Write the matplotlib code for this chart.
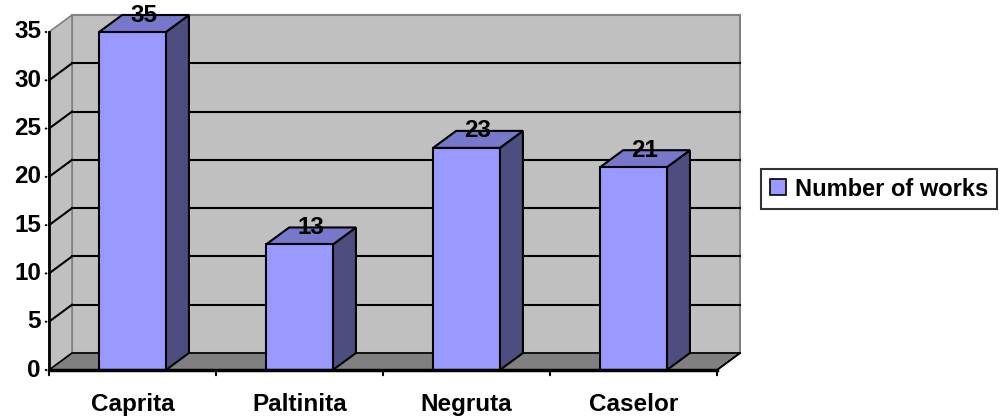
import matplotlib
matplotlib.use("Agg")
import matplotlib.pyplot as plt
from matplotlib.patches import Polygon, Rectangle, Patch

categories = ["Caprita", "Paltinita", "Negruta", "Caselor"]
works = [35, 13, 23, 21]
y_ticks = [0, 5, 10, 15, 20, 25, 30, 35]
series_name = "Number of works"

FRONT = "#9999ff"
SIDE = "#4d4d80"
TOP = "#7777cc"
WALL = "#c0c0c0"
FLOOR = "#808080"

# depth offset of the 3d box, in data units
DX = 0.138
DY = 1.76
BW = 0.40
FS = 17.5

plt.rcParams['font.family'] = ['Liberation Sans', 'DejaVu Sans']
plt.rcParams['font.weight'] = 'bold'

fig = plt.figure(figsize=(9.99, 4.19), dpi=100)
ax = fig.add_axes([49 / 999, (419 - 370) / 419, 668 / 999, 338 / 419])
ax.set_xlim(-0.5, 3.5)
ax.set_ylim(0, 35)
ax.axis("off")

x0, x1 = -0.5, len(categories) - 0.5
ytop = y_ticks[-1]

# walls and floor
ax.add_patch(Polygon([(x0 + DX, DY), (x1 + DX, DY), (x1 + DX, ytop + DY), (x0 + DX, ytop + DY)],
                     closed=True, facecolor=WALL, edgecolor=FLOOR, lw=1.5, clip_on=False, zorder=1))
ax.add_patch(Polygon([(x0, 0), (x0 + DX, DY), (x0 + DX, ytop + DY), (x0, ytop)],
                     closed=True, facecolor=WALL, edgecolor=FLOOR, lw=1.2, clip_on=False, zorder=1))
ax.add_patch(Polygon([(x0, 0), (x1, 0), (x1 + DX, DY), (x0 + DX, DY)],
                     closed=True, facecolor=FLOOR, edgecolor="black", lw=1.2, clip_on=False, zorder=1))

for v in y_ticks[1:-1]:
    ax.plot([x0 + DX, x1 + DX], [v + DY, v + DY], color="black", lw=1.5, clip_on=False, zorder=2)
    ax.plot([x0, x0 + DX], [v, v + DY], color="black", lw=1.5, clip_on=False, zorder=2)

# bars
for i, v in enumerate(works):
    l, r = i - BW / 2, i + BW / 2
    ax.add_patch(Polygon([(r, 0), (r + DX, DY), (r + DX, v + DY), (r, v)], closed=True,
                         facecolor=SIDE, edgecolor="black", lw=1.5, clip_on=False, zorder=3))
    ax.add_patch(Polygon([(l, v), (r, v), (r + DX, v + DY), (l + DX, v + DY)], closed=True,
                         facecolor=TOP, edgecolor="black", lw=1.5, clip_on=False, zorder=3))
    ax.add_patch(Rectangle((l, 0), BW, v, facecolor=FRONT, edgecolor="black", lw=1.5,
                           clip_on=False, zorder=4))
    ax.text(i + DX / 2, v + DY, str(v), ha="center", va="center", fontsize=FS,
            fontweight="bold", zorder=6)

# axes lines and ticks
ax.plot([x0, x0], [0, ytop], color="black", lw=2, clip_on=False, zorder=5)
ax.plot([x0, x1], [0, 0], color="black", lw=2.5, clip_on=False, zorder=5)
ax.plot([x1, x1 + DX], [0, DY], color="black", lw=1.2, clip_on=False, zorder=5)
for v in y_ticks:
    ax.annotate("", xy=(x0, v), xytext=(-6, 0), textcoords="offset pixels",
                arrowprops=dict(arrowstyle="-", lw=1.5, color="black"))
    ax.annotate(str(v), xy=(x0, v), xytext=(-8, 0), textcoords="offset pixels",
                ha="right", va="center", fontsize=FS, fontweight="bold")
for k in range(len(categories) + 1):
    ax.annotate("", xy=(x0 + k, 0), xytext=(0, -8), textcoords="offset pixels",
                arrowprops=dict(arrowstyle="-", lw=1.5, color="black"))
for i, c in enumerate(categories):
    ax.annotate(c, xy=(i, 0), xytext=(0, -34), textcoords="offset pixels",
                ha="center", va="center", fontsize=FS, fontweight="bold")

leg = fig.legend(handles=[Patch(facecolor=FRONT, edgecolor="black", lw=1.2, label=series_name)],
                 loc="center right", bbox_to_anchor=(997 / 999, 1 - 189 / 419),
                 frameon=True, fancybox=False, fontsize=17, handlelength=0.7,
                 handleheight=0.7, handletextpad=0.4, borderpad=0.35, borderaxespad=0)
leg.get_frame().set_edgecolor("black")
leg.get_frame().set_linewidth(1.5)
for t in leg.get_texts():
    t.set_fontweight("bold")

fig.savefig("out.png", dpi=100)
